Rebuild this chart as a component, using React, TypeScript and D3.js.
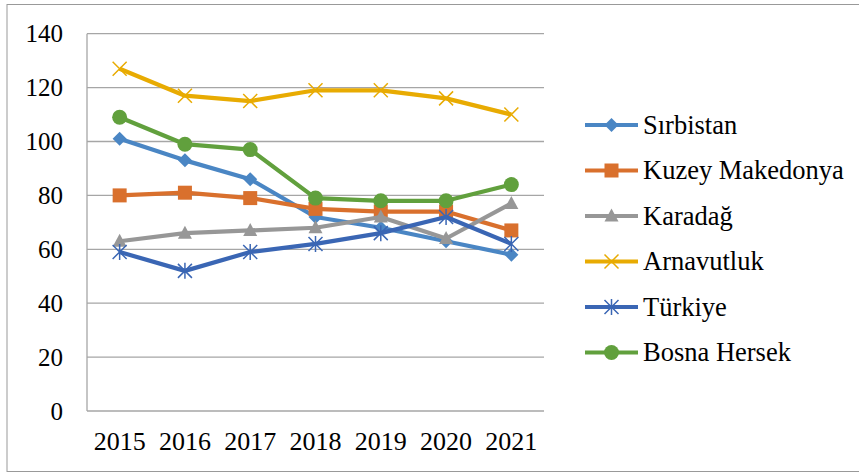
import React from "react";
import * as d3 from "d3";

const years = ["2015", "2016", "2017", "2018", "2019", "2020", "2021"];
const sirbistan = [101, 93, 86, 72, 68, 63, 58];
const kuzeyMakedonya = [80, 81, 79, 75, 74, 74, 67];
const karadag = [63, 66, 67, 68, 72, 64, 77];
const arnavutluk = [127, 117, 115, 119, 119, 116, 110];
const turkiye = [59, 52, 59, 62, 66, 72, 62];
const bosnaHersek = [109, 99, 97, 79, 78, 78, 84];
const yTicks = [0, 20, 40, 60, 80, 100, 120, 140];
const seriesNames = ["Sırbistan", "Kuzey Makedonya", "Karadağ", "Arnavutluk", "Türkiye", "Bosna Hersek"];

type Marker = "diamond" | "square" | "triangle" | "x" | "star" | "circle";

function MarkerShape({ type, x, y, color }: { type: Marker; x: number; y: number; color: string }) {
  switch (type) {
    case "diamond":
      return <path d={`M${x},${y - 7}L${x + 7},${y}L${x},${y + 7}L${x - 7},${y}Z`} fill={color} />;
    case "square":
      return <rect x={x - 7} y={y - 7} width={14} height={14} fill={color} />;
    case "triangle":
      return <path d={`M${x},${y - 7.5}L${x + 7},${y + 5.5}L${x - 7},${y + 5.5}Z`} fill={color} />;
    case "x":
      return (
        <path d={`M${x - 7},${y - 7}L${x + 7},${y + 7}M${x + 7},${y - 7}L${x - 7},${y + 7}`} stroke={color} strokeWidth={1.5} fill="none" />
      );
    case "star":
      return (
        <path
          d={`M${x - 7},${y - 7}L${x + 7},${y + 7}M${x + 7},${y - 7}L${x - 7},${y + 7}M${x},${y - 8}L${x},${y + 8}`}
          stroke={color}
          strokeWidth={1.5}
          fill="none"
        />
      );
    default:
      return <circle cx={x} cy={y} r={7.5} fill={color} />;
  }
}

export default function App() {
  const series: { name: string; values: number[]; color: string; marker: Marker }[] = [
    { name: seriesNames[0], values: sirbistan, color: "#4A86C4", marker: "diamond" },
    { name: seriesNames[1], values: kuzeyMakedonya, color: "#D9702D", marker: "square" },
    { name: seriesNames[2], values: karadag, color: "#979797", marker: "triangle" },
    { name: seriesNames[3], values: arnavutluk, color: "#E8AB02", marker: "x" },
    { name: seriesNames[4], values: turkiye, color: "#3A66B4", marker: "star" },
    { name: seriesNames[5], values: bosnaHersek, color: "#61A03D", marker: "circle" },
  ];
  const left = 87, right = 544, top = 33.7, bottom = 411;
  const x = d3.scaleBand<string>().domain(years).range([left, right]);
  const y = d3.scaleLinear().domain([0, 140]).range([bottom, top]);
  const cx = (yr: string) => (x(yr) as number) + x.bandwidth() / 2;
  const line = d3
    .line<number>()
    .x((_, i) => cx(years[i]))
    .y((v) => y(v));

  const legendX1 = 585, legendX2 = 638, legendTop = 125, legendStep = 45.5;

  return (
    <svg width={859} height={473} style={{ position: "absolute", left: 0, top: 0, background: "#fff" }}>
      <rect x={7} y={4.5} width={870} height={467} fill="#fff" stroke="#999" strokeWidth={1} />
      {yTicks.map((t) => (
        <line key={"g" + t} x1={left} x2={right} y1={y(t)} y2={y(t)} stroke="#A6A6A6" strokeWidth={1.3} />
      ))}
      <line x1={left} x2={left} y1={top} y2={bottom} stroke="#A6A6A6" strokeWidth={1.3} />
      {series.map((s) => (
        <g key={s.name}>
          <path d={line(s.values) || ""} fill="none" stroke={s.color} strokeWidth={4.2} strokeLinejoin="round" />
          {s.values.map((v, i) => (
            <MarkerShape key={i} type={s.marker} x={cx(years[i])} y={y(v)} color={s.color} />
          ))}
        </g>
      ))}
      {series.map((s, i) => {
        const ly = legendTop + i * legendStep;
        return (
          <g key={"l" + s.name}>
            <line x1={legendX1} x2={legendX2} y1={ly} y2={ly} stroke={s.color} strokeWidth={4.2} />
            <MarkerShape type={s.marker} x={(legendX1 + legendX2) / 2} y={ly} color={s.color} />
          </g>
        );
      })}
      {yTicks.map((t) => (
        <text key={"t" + t} x={63} y={y(t) + 8.5} textAnchor="end" fontFamily="Liberation Serif" fontSize={25}>
          {String(t)}
        </text>
      ))}
      {years.map((yr) => (
        <text key={yr} x={cx(yr)} y={450} textAnchor="middle" fontFamily="Liberation Serif" fontSize={26}>
          {yr}
        </text>
      ))}
      {series.map((s, i) => (
        <text key={"n" + s.name} x={643} y={legendTop + i * legendStep + 8.5} fontFamily="Liberation Serif" fontSize={26.5}>
          {s.name}
        </text>
      ))}
    </svg>
  );
}
